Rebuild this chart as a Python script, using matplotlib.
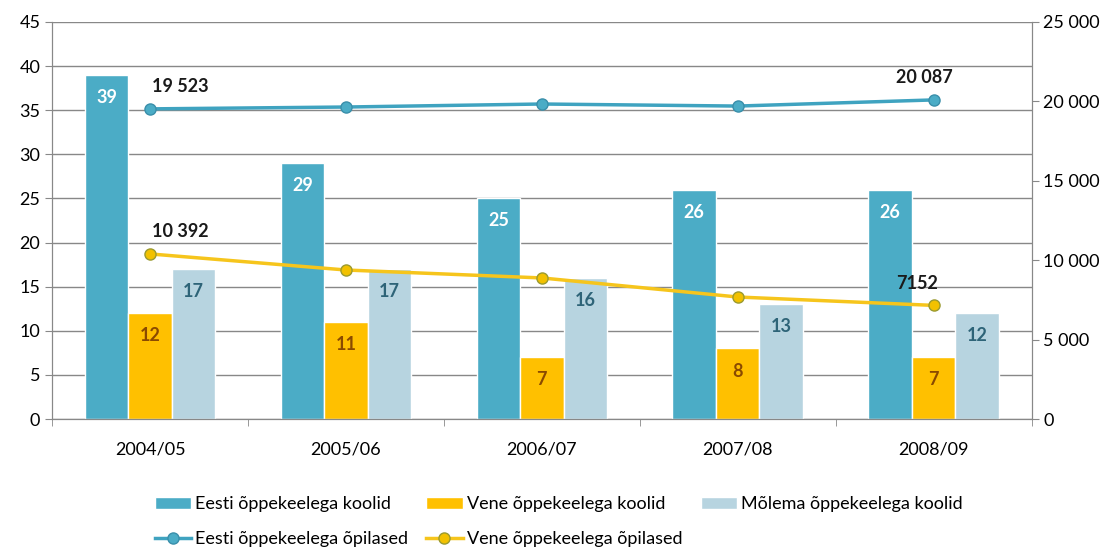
import matplotlib
matplotlib.use('Agg')
import matplotlib.pyplot as plt
import numpy as np

# Andmed
years = ['2004/05', '2005/06', '2006/07', '2007/08', '2008/09']
eesti_koolid = [39, 29, 25, 26, 26]
vene_koolid = [12, 11, 7, 8, 7]
molema_koolid = [17, 17, 16, 13, 12]
eesti_opilased = [19523, 19640, 19830, 19700, 20087]
vene_opilased = [10392, 9380, 8880, 7680, 7152]

plt.rcParams['font.family'] = ['Lato', 'DejaVu Sans']

c_eesti = '#4BACC6'
c_vene = '#FFC000'
c_molema = '#B7D4E0'
c_line_eesti = '#3FA3C0'
c_line_vene = '#F6C51C'

fig = plt.figure(figsize=(11.08, 5.47), dpi=100)
ax = fig.add_axes([0.047, 0.234, 0.884, 0.726])
ax2 = ax.twinx()

x = np.arange(len(years))
w = 0.222
b1 = ax.bar(x - w, eesti_koolid, w, color=c_eesti, edgecolor='white', linewidth=1, label='Eesti õppekeelega koolid', zorder=2)
b2 = ax.bar(x, vene_koolid, w, color=c_vene, edgecolor='white', linewidth=1, label='Vene õppekeelega koolid', zorder=2)
b3 = ax.bar(x + w, molema_koolid, w, color=c_molema, edgecolor='white', linewidth=1, label='Mõlema õppekeelega koolid', zorder=2)

# väärtused tulpades
for bars, vals, col in [(b1, eesti_koolid, 'white'), (b2, vene_koolid, '#8A4A00'), (b3, molema_koolid, '#2E6478')]:
    for r, v in zip(bars, vals):
        ax.text(r.get_x() + r.get_width() / 2, v - 1.6, str(v), ha='center', va='top',
                color=col, fontsize=13, fontweight='bold', zorder=3)

ax.set_ylim(0, 45)
ax.set_yticks(range(0, 46, 5))
ax.set_xlim(-0.5, len(years) - 0.5)
ax.set_xticks(x)
ax.set_xticklabels(years, fontsize=13)
ax.set_xticks(np.arange(-0.5, len(years)), minor=True)
ax.tick_params(axis='x', which='major', length=0, pad=16)
ax.tick_params(axis='x', which='minor', length=5, color='#888888')
ax.tick_params(axis='y', labelsize=13, color='#888888', length=5)
ax.grid(True, axis='y', color='#888888', linewidth=1, zorder=0)
ax.set_axisbelow(True)

l1, = ax2.plot(x, eesti_opilased, color=c_line_eesti, linewidth=2.5, marker='o', markersize=8,
               markerfacecolor=c_eesti, markeredgecolor='#3A8FAA', label='Eesti õppekeelega õpilased', zorder=4)
l2, = ax2.plot(x, vene_opilased, color=c_line_vene, linewidth=2.5, marker='o', markersize=8,
               markerfacecolor='#F2C100', markeredgecolor='#9A9A30', label='Vene õppekeelega õpilased', zorder=4)
ax2.set_ylim(0, 25000)
ax2.set_yticks(range(0, 25001, 5000))
ax2.set_yticklabels([f'{v:,}'.replace(',', ' ') if v >= 10000 else (f'{v // 1000} 000' if v else '0')
                     for v in range(0, 25001, 5000)])
ax2.tick_params(axis='y', labelsize=13, color='#888888', length=5)

def fmt(v):
    return f'{v:,}'.replace(',', ' ') if v >= 10000 else str(v)

# ainult esimene ja viimane punkt saavad sildi
for series in (eesti_opilased, vene_opilased):
    for i, dx in ((0, 1.5), (len(series) - 1, -27)):
        ax2.annotate(fmt(series[i]), (x[i], series[i]), textcoords='offset points',
                     xytext=(dx, 10), ha='left', va='bottom', fontsize=13, fontweight='bold', color='#1a1a1a')

for a in (ax, ax2):
    for s in a.spines.values():
        s.set_color('#888888')
    a.spines['top'].set_visible(False)
ax.patch.set_visible(False)
ax2.patch.set_visible(False)
ax.set_zorder(1)
ax2.set_zorder(2)

handles = [b1, l1, b2, l2, b3]
fig.legend(handles, [h.get_label() for h in handles], ncol=3, loc='lower left',
           bbox_to_anchor=(0.125, -0.03), frameon=False, fontsize=13, handlelength=2.0,
           columnspacing=1.0, handletextpad=0.25, labelspacing=1.05)

fig.savefig('out.png', dpi=100, facecolor='white')
